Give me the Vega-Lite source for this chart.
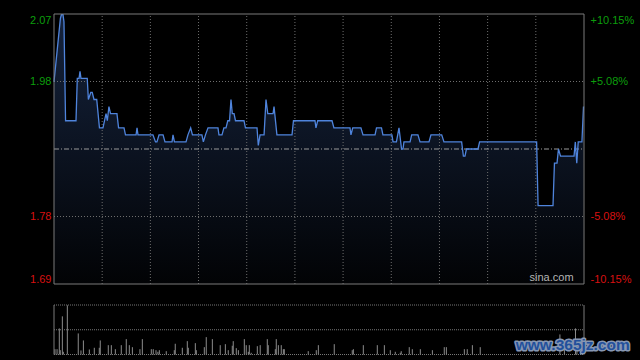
{
  "$schema": "https://vega.github.io/schema/vega-lite/v6.json",
  "width": 530,
  "height": 341,
  "autosize": {"type": "none"},
  "padding": {"left": 54, "top": 14, "right": 56, "bottom": 5},
  "background": "#000000",
  "config": {"view": {"stroke": null}, "font": "Liberation Sans"},
  "datasets": {
    "price": [
      {"t": 0, "p": 1.975}, {"t": 4.0, "p": 2.065}, {"t": 4.6, "p": 2.07}, {"t": 5.6, "p": 2.07}, {"t": 6.2, "p": 2.06}, {"t": 7.2, "p": 1.92}, {"t": 13.7, "p": 1.92},
      {"t": 14.5, "p": 1.98}, {"t": 15.6, "p": 1.98}, {"t": 16.2, "p": 1.99}, {"t": 16.8, "p": 1.98}, {"t": 20.7, "p": 1.98},
      {"t": 21.4, "p": 1.95}, {"t": 22.9, "p": 1.96}, {"t": 23.8, "p": 1.96}, {"t": 24.9, "p": 1.95}, {"t": 26.6, "p": 1.95},
      {"t": 28.3, "p": 1.91}, {"t": 30.5, "p": 1.91}, {"t": 32.4, "p": 1.93}, {"t": 33.2, "p": 1.92}, {"t": 34.2, "p": 1.94},
      {"t": 35.2, "p": 1.93}, {"t": 39.2, "p": 1.93}, {"t": 40.2, "p": 1.91}, {"t": 43.6, "p": 1.91}, {"t": 44.5, "p": 1.90},
      {"t": 51.1, "p": 1.90}, {"t": 51.7, "p": 1.91}, {"t": 52.3, "p": 1.90}, {"t": 61.6, "p": 1.90}, {"t": 63.2, "p": 1.89},
      {"t": 64.1, "p": 1.89}, {"t": 65.4, "p": 1.90}, {"t": 67.9, "p": 1.90}, {"t": 69.1, "p": 1.89}, {"t": 73.5, "p": 1.89},
      {"t": 74.1, "p": 1.90}, {"t": 75.0, "p": 1.89}, {"t": 82.2, "p": 1.89}, {"t": 83.4, "p": 1.90}, {"t": 85.1, "p": 1.91},
      {"t": 86.2, "p": 1.90}, {"t": 92.1, "p": 1.90}, {"t": 93.0, "p": 1.89}, {"t": 94.3, "p": 1.90}, {"t": 95.9, "p": 1.91},
      {"t": 102.1, "p": 1.91}, {"t": 102.7, "p": 1.90}, {"t": 104.6, "p": 1.90}, {"t": 105.8, "p": 1.91}, {"t": 107.1, "p": 1.91},
      {"t": 108.2, "p": 1.92}, {"t": 109.3, "p": 1.92}, {"t": 110.2, "p": 1.95}, {"t": 111.0, "p": 1.93}, {"t": 112.1, "p": 1.93},
      {"t": 113.0, "p": 1.92}, {"t": 118.3, "p": 1.92}, {"t": 119.2, "p": 1.91}, {"t": 126.4, "p": 1.91}, {"t": 127.2, "p": 1.885},
      {"t": 128.3, "p": 1.90}, {"t": 130.8, "p": 1.90}, {"t": 132.0, "p": 1.95}, {"t": 133.1, "p": 1.93}, {"t": 136.4, "p": 1.93},
      {"t": 137.0, "p": 1.94}, {"t": 138.8, "p": 1.90}, {"t": 148.2, "p": 1.90}, {"t": 149.1, "p": 1.92}, {"t": 162.5, "p": 1.92},
      {"t": 163.1, "p": 1.91}, {"t": 164.2, "p": 1.92}, {"t": 173.1, "p": 1.92}, {"t": 174.3, "p": 1.91}, {"t": 184.3, "p": 1.91},
      {"t": 184.9, "p": 1.90}, {"t": 186.0, "p": 1.91}, {"t": 191.1, "p": 1.91}, {"t": 192.4, "p": 1.90}, {"t": 199.9, "p": 1.90},
      {"t": 200.8, "p": 1.91}, {"t": 203.9, "p": 1.91}, {"t": 204.8, "p": 1.90}, {"t": 210.4, "p": 1.90}, {"t": 211.1, "p": 1.89},
      {"t": 213.2, "p": 1.89}, {"t": 214.8, "p": 1.91}, {"t": 216.4, "p": 1.88}, {"t": 217.3, "p": 1.88}, {"t": 217.9, "p": 1.89},
      {"t": 221.7, "p": 1.89}, {"t": 222.7, "p": 1.90}, {"t": 226.6, "p": 1.90}, {"t": 227.9, "p": 1.89}, {"t": 233.5, "p": 1.89},
      {"t": 234.7, "p": 1.90}, {"t": 241.4, "p": 1.90}, {"t": 242.8, "p": 1.89}, {"t": 253.8, "p": 1.89}, {"t": 254.9, "p": 1.87},
      {"t": 255.9, "p": 1.87}, {"t": 256.8, "p": 1.88}, {"t": 264.0, "p": 1.88}, {"t": 265.0, "p": 1.89}, {"t": 300.5, "p": 1.89},
      {"t": 301.4, "p": 1.80}, {"t": 310.7, "p": 1.80}, {"t": 311.6, "p": 1.86}, {"t": 313.2, "p": 1.86}, {"t": 314.1, "p": 1.88},
      {"t": 315.4, "p": 1.87}, {"t": 323.8, "p": 1.87}, {"t": 324.6, "p": 1.89}, {"t": 325.5, "p": 1.86}, {"t": 326.4, "p": 1.89},
      {"t": 328.7, "p": 1.89}, {"t": 329.7, "p": 1.94}
    ],
    "vol": [
      {"t": 0.6, "v": 5.3}, {"t": 1.9, "v": 5.3}, {"t": 3.3, "v": 26}, {"t": 3.9, "v": 4.3}, {"t": 5.2, "v": 38},
      {"t": 5.8, "v": 2.7}, {"t": 8.3, "v": 49}, {"t": 15.1, "v": 21}, {"t": 16.8, "v": 4}, {"t": 18.3, "v": 14},
      {"t": 22.0, "v": 5}, {"t": 25.1, "v": 6.7}, {"t": 28.2, "v": 6.7}, {"t": 28.8, "v": 14}, {"t": 33.8, "v": 9.3},
      {"t": 35.7, "v": 9.3}, {"t": 38.2, "v": 5.3}, {"t": 41.9, "v": 9.3}, {"t": 45.0, "v": 15.3}, {"t": 46.9, "v": 9.3},
      {"t": 48.8, "v": 7.3}, {"t": 53.5, "v": 5.3}, {"t": 55.0, "v": 15.3}, {"t": 60.6, "v": 5.3}, {"t": 61.8, "v": 5.3},
      {"t": 63.5, "v": 4.3}, {"t": 64.7, "v": 2.7}, {"t": 65.6, "v": 4.3}, {"t": 69.9, "v": 3.3}, {"t": 74.9, "v": 4.3},
      {"t": 75.5, "v": 10.7}, {"t": 79.9, "v": 6.7}, {"t": 83.0, "v": 13.3}, {"t": 83.6, "v": 6.7}, {"t": 88.0, "v": 11.3},
      {"t": 88.6, "v": 4.3}, {"t": 93.6, "v": 7.3}, {"t": 94.8, "v": 17.3}, {"t": 98.6, "v": 15.3}, {"t": 103.5, "v": 9.3},
      {"t": 106.7, "v": 10.3}, {"t": 108.5, "v": 4.3}, {"t": 111.0, "v": 8.7}, {"t": 111.6, "v": 13.3}, {"t": 113.5, "v": 6.3},
      {"t": 114.8, "v": 4.3}, {"t": 118.5, "v": 15.3}, {"t": 119.7, "v": 9.3}, {"t": 121.0, "v": 2.7}, {"t": 121.6, "v": 9.3},
      {"t": 122.8, "v": 1.7}, {"t": 126.6, "v": 8.3}, {"t": 128.4, "v": 9.3}, {"t": 132.8, "v": 15.3}, {"t": 133.4, "v": 9.3},
      {"t": 137.8, "v": 5.3}, {"t": 138.4, "v": 15.3}, {"t": 139.7, "v": 9.3}, {"t": 141.5, "v": 9.3}, {"t": 142.8, "v": 5.3},
      {"t": 143.4, "v": 5.3}, {"t": 158.3, "v": 3.3}, {"t": 163.3, "v": 4.3}, {"t": 164.6, "v": 9.3}, {"t": 174.5, "v": 10.3},
      {"t": 185.7, "v": 4.3}, {"t": 186.4, "v": 5.3}, {"t": 192.6, "v": 9.3}, {"t": 201.3, "v": 9.3}, {"t": 205.7, "v": 9.3},
      {"t": 209.4, "v": 4.3}, {"t": 212.5, "v": 2.7}, {"t": 215.6, "v": 1.7}, {"t": 216.2, "v": 3.3}, {"t": 221.2, "v": 7.3},
      {"t": 223.1, "v": 5.3}, {"t": 228.1, "v": 5.3}, {"t": 235.6, "v": 4.3}, {"t": 243.0, "v": 7.3}, {"t": 244.3, "v": 7.3},
      {"t": 255.5, "v": 5.3}, {"t": 257.3, "v": 5.3}, {"t": 260.5, "v": 9.3}, {"t": 265.4, "v": 7.3}, {"t": 315.0, "v": 20},
      {"t": 317.8, "v": 8}, {"t": 324.7, "v": 26}, {"t": 325.6, "v": 10}, {"t": 329.1, "v": 8}
    ],
    "vgrid": [
      {"t": 30}, {"t": 60}, {"t": 90}, {"t": 120}, {"t": 150}, {"t": 180}, {"t": 210}, {"t": 240}, {"t": 270}, {"t": 300}
    ],
    "hgrid": [{"p": 1.9755}, {"p": 1.7845}],
    "vgridlines": [{"v": 0}, {"v": 24.65}, {"v": 49.3}],
    "one": [{"k": 1}]
  },
  "resolve": {"scale": {"y": "independent"}, "axis": {"y": "independent"}},
  "layer": [
    {
      "layer": [
        {
          "data": {"name": "price"},
          "mark": {
            "type": "area",
            "color": {
              "x1": 0, "y1": 0, "x2": 0, "y2": 1, "gradient": "linear",
              "stops": [{"offset": 0, "color": "#15233d"}, {"offset": 1, "color": "#020305"}]
            }
          },
          "encoding": {
            "x": {"field": "t", "type": "quantitative", "scale": {"domain": [0, 330], "nice": false, "zero": false}, "axis": null},
            "y": {"field": "p", "type": "quantitative", "scale": {"domain": [1.689, 2.071], "range": [270, 0], "nice": false, "zero": false}, "axis": null},
            "y2": {"datum": 1.689}
          }
        },
        {
          "data": {"name": "vgrid"},
          "mark": {"type": "rule", "color": "#6e6e6e", "strokeDash": [1, 2], "strokeWidth": 1},
          "encoding": {
            "x": {"field": "t", "type": "quantitative", "axis": null},
            "y": {"datum": 1.689, "type": "quantitative", "axis": null},
            "y2": {"datum": 2.071}
          }
        },
        {
          "data": {"name": "hgrid"},
          "mark": {"type": "rule", "color": "#6e6e6e", "strokeDash": [1, 2], "strokeWidth": 1},
          "encoding": {
            "x": {"datum": 0, "type": "quantitative", "axis": null},
            "x2": {"datum": 330},
            "y": {"field": "p", "type": "quantitative", "axis": null}
          }
        },
        {
          "data": {"name": "one"},
          "mark": {"type": "rule", "color": "#9a9a9a", "strokeDash": [5, 2, 1, 2], "strokeWidth": 1},
          "encoding": {
            "x": {"datum": 0, "type": "quantitative", "axis": null},
            "x2": {"datum": 330},
            "y": {"datum": 1.88, "type": "quantitative", "axis": null}
          }
        },
        {
          "data": {"name": "price"},
          "mark": {"type": "line", "color": "#4f84dc", "strokeWidth": 1.3},
          "encoding": {
            "x": {"field": "t", "type": "quantitative", "axis": null},
            "y": {"field": "p", "type": "quantitative", "axis": null}
          }
        },
        {
          "data": {"name": "one"},
          "mark": {"type": "rule", "color": "#7a7a7a", "strokeWidth": 1},
          "encoding": {
            "x": {"datum": 330, "type": "quantitative", "axis": null},
            "y": {"datum": 1.689, "type": "quantitative", "axis": null},
            "y2": {"datum": 2.071}
          }
        },
        {
          "data": {"name": "one"},
          "mark": {"type": "rule", "color": "#7a7a7a", "strokeWidth": 1},
          "encoding": {
            "x": {"datum": 0, "type": "quantitative", "axis": null},
            "x2": {"datum": 330},
            "y": {"datum": 2.071, "type": "quantitative", "axis": null}
          }
        },
        {
          "data": {"name": "one"},
          "mark": {"type": "rule", "color": "#7a7a7a", "strokeWidth": 1},
          "encoding": {
            "x": {"datum": 0, "type": "quantitative", "axis": null},
            "x2": {"datum": 330},
            "y": {"datum": 1.689, "type": "quantitative", "axis": null}
          }
        },
        {
          "data": {"name": "one"},
          "mark": {"type": "text", "align": "right", "baseline": "bottom", "color": "#b4b4b4", "fontSize": 11, "font": "Liberation Sans"},
          "encoding": {
            "x": {"datum": 323.5, "type": "quantitative", "axis": null},
            "y": {"datum": 1.6905, "type": "quantitative", "axis": null},
            "text": {"value": "sina.com"}
          }
        }
      ]
    },
    {
      "data": {"name": "one"},
      "mark": {"type": "rule", "color": "#7a7a7a", "strokeWidth": 1},
      "encoding": {
        "x": {"datum": 0, "type": "quantitative", "axis": null},
        "y": {
          "datum": 1.689, "type": "quantitative",
          "scale": {"domain": [1.689, 2.071], "range": [270, 0], "nice": false, "zero": false},
          "axis": {
            "orient": "left", "title": null, "ticks": false, "domain": false, "grid": false,
            "values": [1.689, 1.7845, 1.9755, 2.071],
            "labelExpr": "datum.value > 2.0 ? '2.07' : datum.value > 1.9 ? '1.98' : datum.value > 1.75 ? '1.78' : '1.69'",
            "labelColor": {"condition": {"test": "datum.value > 1.88", "value": "#0c9e0c"}, "value": "#d81010"},
            "labelFont": "Liberation Sans", "labelFontSize": 11, "labelPadding": 3, "labelFlush": true
          }
        },
        "y2": {"datum": 2.071}
      }
    },
    {
      "data": {"name": "one"},
      "mark": {"type": "rule", "color": "#9a9a9a", "strokeWidth": 1, "opacity": 0},
      "encoding": {
        "x": {"datum": 0, "type": "quantitative", "axis": null},
        "x2": {"datum": 330},
        "y": {
          "datum": 1.88, "type": "quantitative",
          "scale": {"domain": [1.689, 2.071], "range": [270, 0], "nice": false, "zero": false},
          "axis": {
            "orient": "right", "title": null, "ticks": false, "domain": false, "grid": false,
            "values": [1.689, 1.7845, 1.9755, 2.071],
            "labelExpr": "datum.value > 2.0 ? '+10.15%' : datum.value > 1.9 ? '+5.08%' : datum.value > 1.75 ? '-5.08%' : '-10.15%'",
            "labelColor": {"condition": {"test": "datum.value > 1.88", "value": "#0c9e0c"}, "value": "#d81010"},
            "labelFont": "Liberation Sans", "labelFontSize": 11, "labelPadding": 6, "labelFlush": true
          }
        }
      }
    },
    {
      "layer": [
        {
          "data": {"name": "vol"},
          "mark": {"type": "rule", "color": "#8c8c8c", "strokeWidth": 1},
          "encoding": {
            "x": {"field": "t", "type": "quantitative", "axis": null},
            "y": {"field": "v", "type": "quantitative", "scale": {"domain": [0, 49.3], "range": [340.5, 291], "nice": false, "zero": false}, "axis": null},
            "y2": {"datum": 0}
          }
        },
        {
          "data": {"name": "vgridlines"},
          "mark": {"type": "rule", "color": "#777777", "strokeDash": [1, 1], "strokeWidth": 1},
          "encoding": {
            "x": {"datum": 0, "type": "quantitative", "axis": null},
            "x2": {"datum": 330},
            "y": {"field": "v", "type": "quantitative", "axis": null}
          }
        },
        {
          "data": {"name": "one"},
          "mark": {"type": "rule", "color": "#7a7a7a", "strokeWidth": 1},
          "encoding": {
            "x": {"datum": 0, "type": "quantitative", "axis": null},
            "y": {"datum": 0, "type": "quantitative", "axis": null},
            "y2": {"datum": 49.3}
          }
        },
        {
          "data": {"name": "one"},
          "mark": {"type": "rule", "color": "#7a7a7a", "strokeWidth": 1},
          "encoding": {
            "x": {"datum": 330, "type": "quantitative", "axis": null},
            "y": {"datum": 0, "type": "quantitative", "axis": null},
            "y2": {"datum": 49.3}
          }
        },
        {
          "data": {"name": "one"},
          "mark": {"type": "text", "align": "left", "baseline": "middle", "color": "#8797b2", "stroke": "#8797b2", "strokeWidth": 3, "strokeJoin": "round", "fontSize": 15.5, "fontWeight": "bold", "font": "Liberation Sans"},
          "encoding": {
            "x": {"datum": 287.5, "type": "quantitative", "axis": null},
            "y": {"datum": 9.5, "type": "quantitative", "axis": null},
            "text": {"value": "www.365jz.com"}
          }
        },
        {
          "data": {"name": "one"},
          "mark": {"type": "text", "align": "left", "baseline": "middle", "color": "#22509c", "fontSize": 15.5, "fontWeight": "bold", "font": "Liberation Sans"},
          "encoding": {
            "x": {"datum": 287.5, "type": "quantitative", "axis": null},
            "y": {"datum": 9.5, "type": "quantitative", "axis": null},
            "text": {"value": "www.365jz.com"}
          }
        }
      ]
    }
  ]
}
